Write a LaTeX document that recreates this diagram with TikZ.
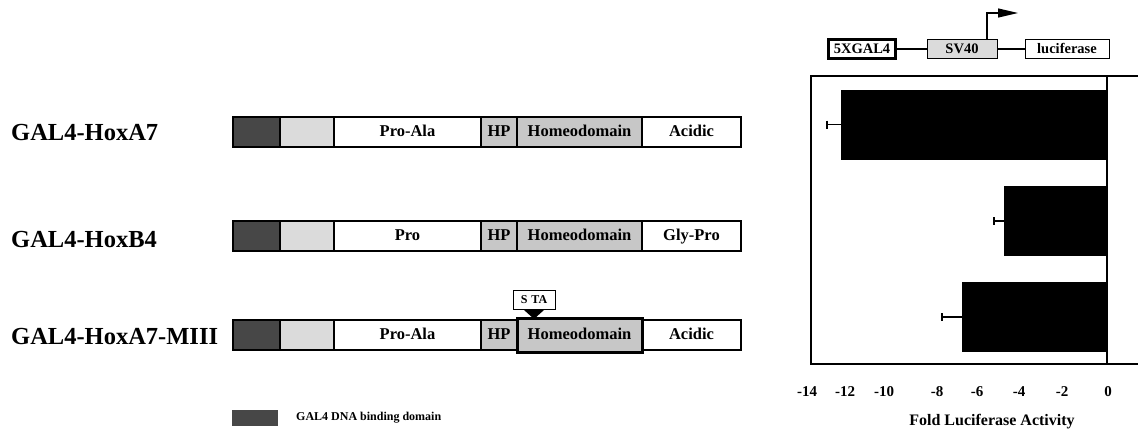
\documentclass[tikz,border=0pt]{standalone}
\usepackage{fontspec}
\setmainfont{Liberation Serif}
\usetikzlibrary{arrows.meta}
\definecolor{darkg}{gray}{0.28}
\definecolor{lightg}{gray}{0.86}
\definecolor{midg}{gray}{0.78}
\begin{document}
\begin{tikzpicture}[x=1pt,y=-1pt,
  seg/.style={draw, line width=1.2pt, inner sep=0pt, outer sep=0pt, minimum height=30pt, anchor=west,
    text height=12pt, text depth=3pt, font=\bfseries\fontsize{16.5}{16.5}\selectfont},
  lbl/.style={anchor=west, inner sep=0pt, font=\bfseries\fontsize{24.5}{24.5}\selectfont},
  tick/.style={inner sep=0pt, font=\bfseries\fontsize{15}{15}\selectfont},
  bar/.style={fill=black, draw=none, inner sep=0pt, outer sep=0pt, anchor=east, minimum height=70pt},
  err/.style={line width=1.6pt},
  errcap/.style={line width=2pt},
  cbox/.style={draw, line width=1pt, inner sep=0pt, minimum height=19pt, text height=10pt, text depth=2pt,
    font=\bfseries\fontsize{14.5}{14.5}\selectfont},
  conn/.style={line width=1.2pt}]
\useasboundingbox (0,0) rectangle (1138,434);

% row labels
\node[lbl] (l1) at (11,133) {GAL4-HoxA7};
\node[lbl] (l2) at (11,240) {GAL4-HoxB4};
\node[lbl] (l3) at (11,337) {GAL4-HoxA7-MIII};

% row 1
\node[seg, fill=darkg, minimum width=47pt] (a1) at (233,132) {};
\node[seg, fill=lightg, minimum width=54pt] (a2) at (a1.east) {};
\node[seg, fill=white, minimum width=147pt] (a3) at (a2.east) {Pro-Ala};
\node[seg, fill=midg, minimum width=36pt] (a4) at (a3.east) {HP};
\node[seg, fill=midg, minimum width=125pt] (a5) at (a4.east) {Homeodomain};
\node[seg, fill=white, minimum width=99pt] (a6) at (a5.east) {Acidic};

% row 2
\node[seg, fill=darkg, minimum width=47pt] (b1) at (233,236) {};
\node[seg, fill=lightg, minimum width=54pt] (b2) at (b1.east) {};
\node[seg, fill=white, minimum width=147pt] (b3) at (b2.east) {Pro};
\node[seg, fill=midg, minimum width=36pt] (b4) at (b3.east) {HP};
\node[seg, fill=midg, minimum width=125pt] (b5) at (b4.east) {Homeodomain};
\node[seg, fill=white, minimum width=99pt] (b6) at (b5.east) {Gly-Pro};

% row 3
\node[seg, fill=darkg, minimum width=47pt] (c1) at (233,335) {};
\node[seg, fill=lightg, minimum width=54pt] (c2) at (c1.east) {};
\node[seg, fill=white, minimum width=147pt] (c3) at (c2.east) {Pro-Ala};
\node[seg, fill=midg, minimum width=36pt] (c4) at (c3.east) {HP};
\node[seg, fill=white, minimum width=99pt] (c6) at (642,335) {Acidic};
\node[seg, fill=midg, line width=3pt, minimum width=125pt, minimum height=34pt] (c5) at (517,335) {Homeodomain};

% STA marker
\node[draw, line width=1pt, inner sep=0pt, minimum width=42pt, minimum height=19pt,
  font=\bfseries\fontsize{12}{12}\selectfont] (sta) at (534,300) {S\,\,TA};
\coordinate (tipc) at (534,319);
\fill (sta.south) ++(-10,0) -- ++(20,0) -- (tipc) -- cycle;

% legend
\node[fill=darkg, inner sep=0pt, minimum width=46pt, minimum height=16pt] (leg) at (255,418) {};
\node[anchor=west, inner sep=0pt, font=\bfseries\fontsize{12}{12}\selectfont] (legt) at (296,418) {GAL4 DNA binding domain};

% construct
\node[cbox, line width=2.4pt, minimum width=67pt] (g4) at (862,49) {5XGAL4};
\node[cbox, fill=lightg, minimum width=70pt] (sv) at (962,49) {SV40};
\node[cbox, minimum width=84pt] (luc) at (1067,49) {luciferase};
\draw[conn] (g4) -- (sv);
\draw[conn] (sv) -- (luc);
\coordinate (ab) at (987,39.5);
\coordinate (at) at (1018,13);
\draw[line width=1.2pt, -{Triangle[length=20pt,width=9pt]}] (ab) |- (at);

% plot frame
\coordinate (ftr) at (1138,76);
\coordinate (ftl) at (811,76);
\coordinate (fbl) at (811,364);
\coordinate (fbr) at (1138,364);
\draw[line width=2pt] (ftr) -- (ftl) -- (fbl) -- (fbr);
\coordinate (z0) at (1107,76);
\coordinate (z1) at (1107,364);
\draw[line width=1.6pt] (z0) -- (z1);

% bars
\node[bar, minimum width=266pt] (p1) at (1107,124.5) {};
\node[bar, minimum width=103pt] (p2) at (1107,221) {};
\node[bar, minimum width=145pt] (p3) at (1107,317) {};
\coordinate (e1) at (827,124.5);
\coordinate (e2) at (994,221);
\coordinate (e3) at (942,317);
\draw[err] (p1.west) -- (e1);
\draw[err] (p2.west) -- (e2);
\draw[err] (p3.west) -- (e3);
\draw[errcap] (e1) ++(0,-4) -- ++(0,8);
\draw[errcap] (e2) ++(0,-4) -- ++(0,8);
\draw[errcap] (e3) ++(0,-4) -- ++(0,8);

% ticks
\node[tick] (t14) at (807,392) {-14};
\node[tick] (t12) at (845,392) {-12};
\node[tick] (t10) at (884,392) {-10};
\node[tick] (t8) at (937,392) {-8};
\node[tick] (t6) at (977,392) {-6};
\node[tick] (t4) at (1019,392) {-4};
\node[tick] (t2) at (1062,392) {-2};
\node[tick] (t0) at (1108,392) {0};
\node[inner sep=0pt, font=\bfseries\fontsize{16}{16}\selectfont] (xl) at (992,422) {Fold Luciferase Activity};
\end{tikzpicture}
\end{document}
